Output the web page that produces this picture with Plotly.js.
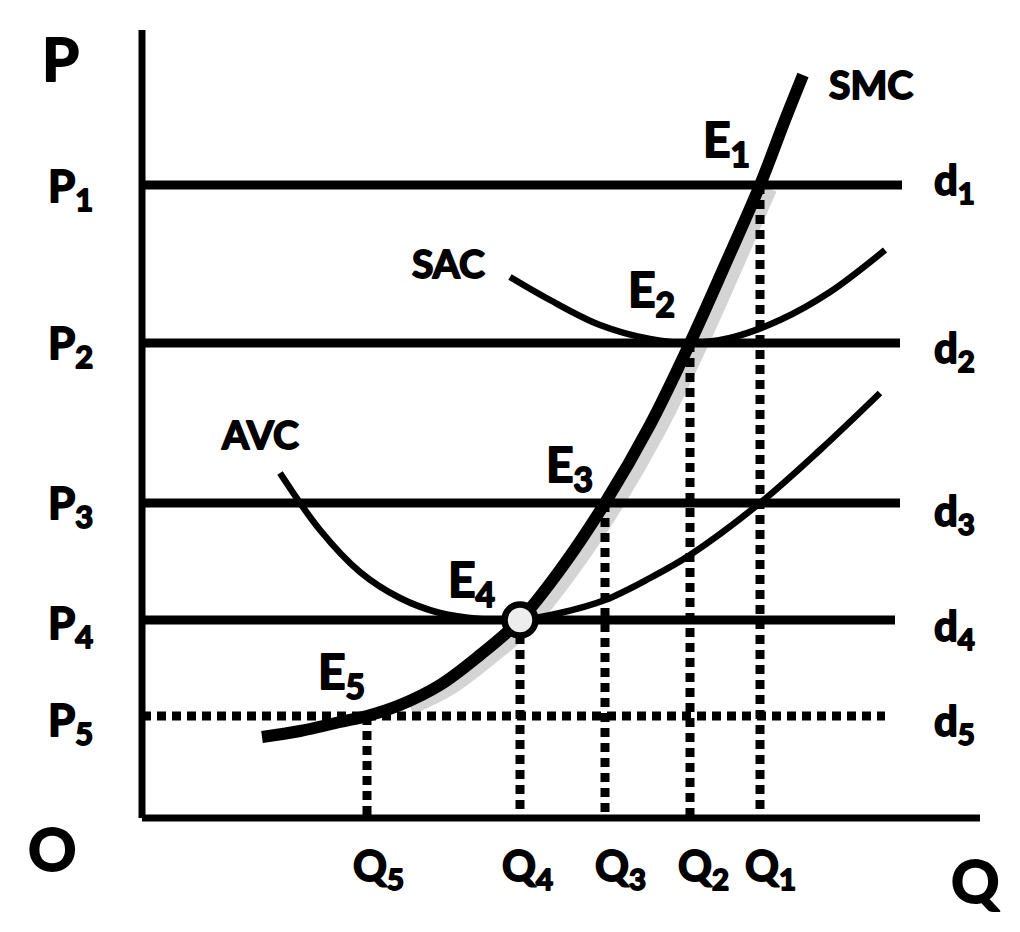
<!DOCTYPE html>
<html>
<head>
<meta charset="utf-8">
<script src="https://cdn.plot.ly/plotly-3.0.1.min.js"></script>
<style>
html,body{margin:0;padding:0;background:#fff;}
#chart{width:1020px;height:932px;}
#chart .annotation-text{stroke:#000;stroke-width:1.8px;stroke-linejoin:round;}
</style>
</head>
<body>
<div id="chart"></div>
<script>
// ---- data (arbitrary units, origin O = (0,0)) ----
const priceLabels = ['P<sub>1</sub>', 'P<sub>2</sub>', 'P<sub>3</sub>', 'P<sub>4</sub>', 'P<sub>5</sub>'];
const demandLabels = ['d<sub>1</sub>', 'd<sub>2</sub>', 'd<sub>3</sub>', 'd<sub>4</sub>', 'd<sub>5</sub>'];
const quantityLabels = ['Q<sub>1</sub>', 'Q<sub>2</sub>', 'Q<sub>3</sub>', 'Q<sub>4</sub>', 'Q<sub>5</sub>'];
const equilibriumLabels = ['E<sub>1</sub>', 'E<sub>2</sub>', 'E<sub>3</sub>', 'E<sub>4</sub>', 'E<sub>5</sub>'];
const priceLevels = [63.3, 47.5, 31.5, 19.8, 10.2];      // P1..P5
const quantityLevels = [61.8, 54.8, 46.3, 37.8, 22.5];   // Q1..Q5
const demandEnds = [76.0, 75.8, 75.8, 75.3, 74.3];       // right end of d1..d5

const smcQ = [12.0, 15.8, 19.8, 22.5, 25.8, 29.8, 33.8, 37.8, 41.8, 46.3, 50.8, 54.8, 58.3, 61.8, 64.3, 66.1];
const smcP = [8.1, 8.7, 9.6, 10.2, 11.3, 13.3, 16.3, 19.8, 24.8, 31.5, 39.3, 47.5, 55.3, 63.3, 69.8, 74.3];
const sacQ = [36.8, 40.8, 45.8, 50.8, 54.8, 58.8, 63.8, 68.8, 74.3];
const sacP = [54.1, 51.8, 49.3, 47.9, 47.5, 48.0, 49.8, 52.6, 56.8];
const avcQ = [13.8, 17.8, 21.8, 25.8, 29.8, 33.8, 37.8, 41.8, 46.3, 50.8, 54.8, 61.8, 67.8, 73.8];
const avcP = [34.5, 28.8, 24.6, 22.0, 20.5, 19.9, 19.8, 20.5, 21.8, 24.0, 26.3, 31.5, 36.8, 42.5];

const axisQEnd = 83.8, axisPTop = 78.8;

// ---- traces ----
const black = '#000';
const dotted = '9px,6px';
const traces = [];
// soft shadow to the right of SMC
traces.push({x: smcQ.slice(4, 14).map(v => v + 1.1), y: smcP.slice(4, 14).map(v => v - 0.4), mode: 'lines', line: {color: 'rgba(170,170,170,0.5)', width: 12, shape: 'spline'}});
// axes
traces.push({x: [0, 0], y: [axisPTop, 0], mode: 'lines', line: {color: black, width: 7}});
traces.push({x: [0, axisQEnd], y: [0, 0], mode: 'lines', line: {color: black, width: 7}});
// demand lines
priceLevels.forEach((p, i) => {
  traces.push({x: [0, demandEnds[i]], y: [p, p], mode: 'lines',
    line: {color: black, width: 9, dash: i === 4 ? dotted : 'solid'}});
});
// vertical dotted lines
quantityLevels.forEach((q, i) => {
  traces.push({x: [q, q], y: [priceLevels[i], 0], mode: 'lines', line: {color: black, width: 9, dash: dotted}});
});
// cost curves
traces.push({x: sacQ, y: sacP, mode: 'lines', line: {color: black, width: 6.5, shape: 'spline'}});
traces.push({x: avcQ, y: avcP, mode: 'lines', line: {color: black, width: 6.5, shape: 'spline'}});
traces.push({x: smcQ, y: smcP, mode: 'lines', line: {color: black, width: 12, shape: 'spline'}});
// E4 marker
traces.push({x: [quantityLevels[3]], y: [priceLevels[3]], mode: 'markers',
  marker: {size: 31, color: '#ededed', line: {color: black, width: 6.5}}});

// ---- annotations ----
const font = (s) => ({family: 'Lato, "Open Sans", sans-serif', size: s, color: black, weight: 'bold'});
const ann = [];
const add = (x, y, text, size) => ann.push({x, y, text: text, showarrow: false, font: font(size), xanchor: 'center', yanchor: 'middle'});
add(-8.2, 76.0, 'P', 60);
add(-9.0, -3.0, 'O', 60);
add(83.3, -6.2, 'Q', 60);
const pLabelY = [63.0, 47.3, 31.3, 19.3, 9.6];
priceLabels.forEach((t, i) => add(-7.2, pLabelY[i], t, 44));
const dLabelY = [63.6, 46.8, 30.5, 19.0, 9.5];
demandLabels.forEach((t, i) => add(81.2, dLabelY[i], t, 42));
const qLabelX = [62.8, 56.1, 47.8, 38.5, 23.6];
quantityLabels.forEach((t, i) => add(qLabelX[i], -5.0, t, 42));
const eX = [58.4, 50.9, 42.7, 32.9, 19.9];
const eY = [67.6, 52.6, 35.1, 23.6, 14.4];
equilibriumLabels.forEach((t, i) => add(eX[i], eY[i], t, 48));
add(72.9, 73.4, 'SMC', 39);
add(30.6, 55.5, 'SAC', 39);
add(11.8, 38.4, 'AVC', 39);

const layout = {
  width: 1020, height: 932,
  margin: {l: 0, r: 0, t: 0, b: 0},
  paper_bgcolor: '#fff', plot_bgcolor: '#fff',
  showlegend: false, hovermode: false,
  xaxis: {range: [-14.2, 87.8], visible: false, fixedrange: true},
  yaxis: {range: [-11.4, 81.8], visible: false, fixedrange: true},
  annotations: ann
};
Plotly.newPlot('chart', traces, layout, {staticPlot: true, displayModeBar: false});
</script>
</body>
</html>
